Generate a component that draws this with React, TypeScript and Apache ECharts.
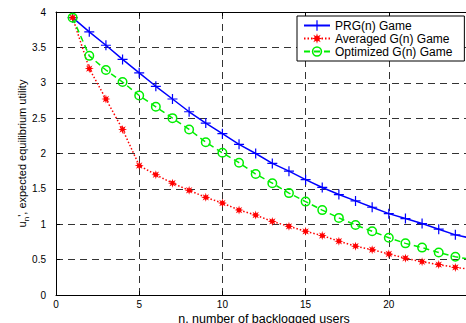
import React, { useEffect, useRef } from "react";
import * as echarts from "echarts";

const nValues = [1,2,3,4,5,6,7,8,9,10,11,12,13,14,15,16,17,18,19,20,21,22,23,24,25];
const prg = [3.92,3.72,3.53,3.33,3.14,2.95,2.77,2.59,2.43,2.28,2.13,2.0,1.86,1.75,1.63,1.52,1.42,1.33,1.24,1.15,1.08,1.01,0.93,0.85,0.8];
const averaged = [3.92,3.2,2.77,2.34,1.83,1.7,1.58,1.48,1.38,1.3,1.2,1.13,1.04,0.97,0.9,0.84,0.76,0.69,0.64,0.58,0.52,0.47,0.43,0.39,0.36];
const optimized = [3.92,3.38,3.18,3.01,2.82,2.66,2.5,2.34,2.16,2.01,1.87,1.71,1.58,1.44,1.32,1.2,1.09,0.99,0.9,0.81,0.73,0.67,0.6,0.54,0.5];
const seriesNames = ["PRG(n) Game", "Averaged G(n) Game", "Optimized G(n) Game"];

const plusPath = "path://M-0.12,-1L0.12,-1L0.12,-0.12L1,-0.12L1,0.12L0.12,0.12L0.12,1L-0.12,1L-0.12,0.12L-1,0.12L-1,-0.12L-0.12,-0.12Z";
function starPath() {
  const pts: string[] = [];
  for (let i = 0; i < 16; i++) {
    const a = (i * Math.PI) / 8 - Math.PI / 2;
    const r = i % 2 === 0 ? 1 : 0.45;
    pts.push(`${(r * Math.cos(a)).toFixed(3)},${(r * Math.sin(a)).toFixed(3)}`);
  }
  return "path://M" + pts.join("L") + "Z";
}
const ringPath = "path://M1,0A1,1 0 1,1 -1,0A1,1 0 1,1 1,0ZM0.7,0A0.7,0.7 0 1,0 -0.7,0A0.7,0.7 0 1,0 0.7,0Z";

const pair = (arr: number[]) => nValues.map((n, i) => [n, arr[i]]);

export default function App() {
  const ref = useRef<HTMLDivElement>(null);
  useEffect(() => {
    if (!ref.current) return;
    const chart = echarts.init(ref.current, null, { renderer: "svg" });
    const font = "Liberation Sans, Arial, Helvetica, sans-serif";
    const gridDash = { color: "#333", width: 1, type: [7, 5] as any };
    chart.setOption({
      animation: false,
      backgroundColor: "#fff",
      textStyle: { fontFamily: font },
      grid: { left: 56, top: 12, right: 18, bottom: 28, containLabel: false, outerBoundsMode: "none" },
      legend: {
        left: 297,
        top: 16,
        orient: "vertical",
        data: seriesNames,
        backgroundColor: "#fff",
        borderColor: "#000",
        borderWidth: 1,
        borderRadius: 0,
        padding: [3, 12, 3, 6],
        itemWidth: 26,
        itemHeight: 13,
        itemGap: 0,
        textStyle: { fontSize: 12, color: "#000", fontFamily: font, lineHeight: 13 },
      },
      xAxis: [
        {
          type: "value",
          min: 0,
          max: 25,
          interval: 5,
          position: "bottom",
          axisLine: { show: true, lineStyle: { color: "#000", width: 1 } },
          axisTick: { show: true, inside: true, length: 4, lineStyle: { color: "#000" } },
          axisLabel: { fontSize: 10, color: "#000", margin: 4, fontFamily: font },
          splitLine: { show: true, lineStyle: gridDash },
          name: "n, number of backlogged users",
          nameLocation: "middle",
          nameGap: 17,
          nameMoveOverlap: false,
          nameTextStyle: { fontSize: 12.5, color: "#000", fontFamily: font },
        },
        {
          type: "value",
          min: 0,
          max: 25,
          interval: 5,
          position: "top",
          axisLine: { show: true, lineStyle: { color: "#000", width: 1 } },
          axisTick: { show: true, inside: true, length: 4, lineStyle: { color: "#000" } },
          axisLabel: { show: false },
          splitLine: { show: false },
        },
      ],
      yAxis: {
        type: "value",
        min: 0,
        max: 4,
        interval: 0.5,
        axisLine: { show: true, lineStyle: { color: "#000", width: 1 } },
        axisTick: { show: true, inside: true, length: 4, lineStyle: { color: "#000" } },
        axisLabel: { fontSize: 10, color: "#000", margin: 10, fontFamily: font },
        splitLine: { show: true, lineStyle: gridDash },
        name: "{u|u}{s|n}{t|', expected equilibrium utility}",
        nameLocation: "middle",
        nameGap: 26,
        nameMoveOverlap: false,
        nameTextStyle: {
          color: "#000",
          fontFamily: font,
          rich: {
            u: { fontSize: 11, color: "#000", fontFamily: font, lineHeight: 16, verticalAlign: "middle" },
            s: { fontSize: 8, color: "#000", fontFamily: font, lineHeight: 16, verticalAlign: "bottom", padding: [6, 0, 0, 0] },
            t: { fontSize: 11, color: "#000", fontFamily: font, lineHeight: 16, verticalAlign: "middle" },
          },
        },
      },
      series: [
        {
          name: seriesNames[0],
          type: "line",
          data: pair(prg),
          symbol: plusPath,
          symbolSize: 10,
          color: "#0000ff",
          itemStyle: { color: "#0000ff" },
          lineStyle: { color: "#0000ff", width: 1.5, type: "solid" },
        },
        {
          name: seriesNames[1],
          type: "line",
          data: pair(averaged),
          symbol: starPath(),
          symbolSize: 9,
          color: "#ff0000",
          itemStyle: { color: "#ff0000" },
          lineStyle: { color: "#ff0000", width: 1.5, type: [1.5, 2] },
        },
        {
          name: seriesNames[2],
          type: "line",
          data: pair(optimized),
          symbol: ringPath,
          symbolSize: 10,
          color: "#00ee00",
          itemStyle: { color: "#00ee00" },
          lineStyle: { color: "#00ee00", width: 1.5, type: [6, 4] },
        },
      ],
    });
    return () => chart.dispose();
  }, []);
  return (
    <div style={{ position: "absolute", left: 0, top: 0, width: 466, height: 323, overflow: "hidden" }}>
      <div ref={ref} style={{ width: 490, height: 323 }} />
    </div>
  );
}
